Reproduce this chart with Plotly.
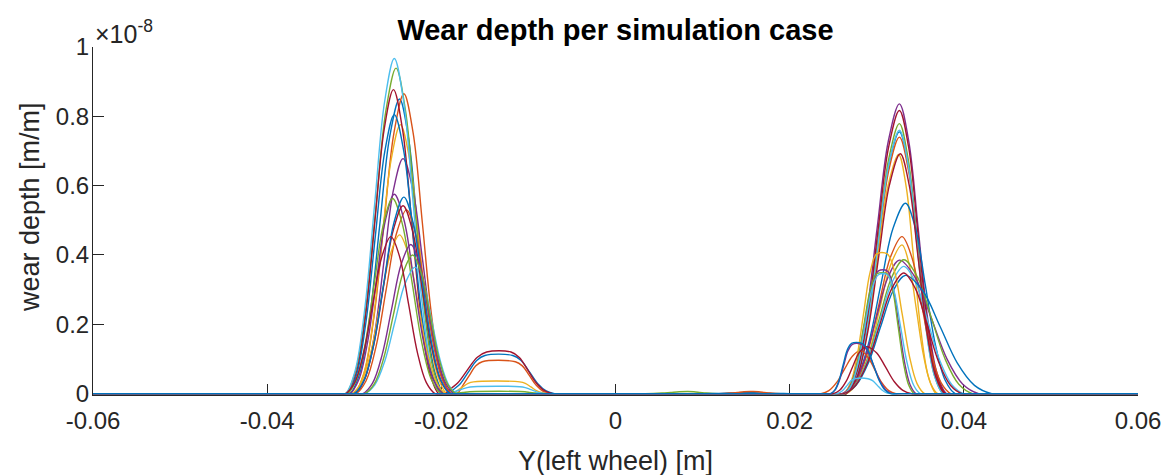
import plotly.graph_objects as go

# ---------------- data ----------------
# wear depth values are in units of 1e-8 m/m
x_ticks = [-0.06, -0.04, -0.02, 0.0, 0.02, 0.04, 0.06]
x_tick_labels = ["-0.06", "-0.04", "-0.02", "0", "0.02", "0.04", "0.06"]
y_ticks = [0.0, 0.2, 0.4, 0.6, 0.8, 1.0]
y_tick_labels = ["0", "0.2", "0.4", "0.6", "0.8", "1"]

n_cases = 25

# each bump of a case's wear profile: start of rise, start/end of top, end of fall, height
bump_case = [
    # left-flange group
    0, 1, 2, 3, 4, 5, 6, 7, 8, 9, 10, 11, 12, 13, 14, 17, 18, 20,
    # tread middle group
    6, 0, 1, 2, 5, 4,
    # small centre bumps
    4, 1, 0,
    # right group
    3, 6, 4, 5, 0, 1, 13, 2, 7, 8,
    9, 16, 11, 10, 17, 12, 20, 14, 18, 19,
    24, 21, 15, 23, 22,
]
bump_start = [
    -0.0305, -0.0300, -0.0300, -0.0298, -0.0310, -0.0310, -0.0308, -0.0308, -0.0298,
    -0.0303, -0.0305, -0.0308, -0.0288, -0.0300, -0.0300, -0.0290, -0.0288, -0.0310,
    -0.0203, -0.0197, -0.0190, -0.0194, -0.0200, -0.0198,
    0.0034, 0.0118, 0.0100,
    0.0262, 0.0264, 0.0265, 0.0265, 0.0264, 0.0265, 0.0265, 0.0265, 0.0262, 0.0263,
    0.0265, 0.0262, 0.0262, 0.0260, 0.0262, 0.0262, 0.0262, 0.0262, 0.0263, 0.0263,
    0.0247, 0.0247, 0.0236, 0.0250, 0.0253,
]
bump_top_left = [
    -0.0248, -0.0243, -0.0247, -0.0244, -0.0252, -0.0254, -0.0255, -0.0254, -0.0240,
    -0.0248, -0.0254, -0.0256, -0.0230, -0.0244, -0.0243, -0.0235, -0.0233, -0.0258,
    -0.0148, -0.0150, -0.0153, -0.0163, -0.0163, -0.0160,
    0.0083, 0.0155, 0.0150,
    0.0326, 0.0326, 0.0326, 0.0326, 0.0326, 0.0326, 0.0327, 0.0325, 0.0333, 0.0329,
    0.0329, 0.0300, 0.0331, 0.0326, 0.0302, 0.0331, 0.0331, 0.0333, 0.0300, 0.0302,
    0.0271, 0.0272, 0.0281, 0.0287, 0.0275,
]
bump_top_right = [
    -0.0248, -0.0243, -0.0247, -0.0244, -0.0252, -0.0254, -0.0255, -0.0254, -0.0240,
    -0.0248, -0.0254, -0.0256, -0.0230, -0.0244, -0.0243, -0.0235, -0.0233, -0.0258,
    -0.0120, -0.0118, -0.0115, -0.0110, -0.0110, -0.0110,
    0.0083, 0.0158, 0.0150,
    0.0326, 0.0326, 0.0326, 0.0326, 0.0326, 0.0326, 0.0327, 0.0325, 0.0333, 0.0329,
    0.0329, 0.0312, 0.0331, 0.0326, 0.0312, 0.0331, 0.0331, 0.0333, 0.0312, 0.0312,
    0.0283, 0.0282, 0.0281, 0.0290, 0.0290,
]
bump_end = [
    -0.0197, -0.0190, -0.0194, -0.0188, -0.0198, -0.0200, -0.0203, -0.0200, -0.0188,
    -0.0195, -0.0198, -0.0200, -0.0182, -0.0190, -0.0190, -0.0185, -0.0183, -0.0207,
    -0.0072, -0.0070, -0.0075, -0.0078, -0.0078, -0.0080,
    0.0118, 0.0190, 0.0200,
    0.0380, 0.0379, 0.0376, 0.0376, 0.0378, 0.0378, 0.0378, 0.0368, 0.0390, 0.0385,
    0.0370, 0.0355, 0.0410, 0.0417, 0.0345, 0.0400, 0.0398, 0.0432, 0.0343, 0.0350,
    0.0316, 0.0318, 0.0322, 0.0340, 0.0316,
]
bump_height = [
    0.850, 0.865, 0.776, 0.678, 0.939, 0.967, 0.877, 0.805, 0.530,
    0.458, 0.575, 0.563, 0.365, 0.542, 0.567, 0.430, 0.400, 0.453,
    0.120, 0.110, 0.092, 0.034, 0.020, 0.006,
    0.006, 0.006, 0.003,
    0.836, 0.817, 0.779, 0.760, 0.755, 0.740, 0.692, 0.690, 0.549, 0.453,
    0.429, 0.403, 0.386, 0.385, 0.354, 0.367, 0.348, 0.341, 0.345, 0.343,
    0.145, 0.142, 0.124, 0.135, 0.043,
]

# ---------------- style ----------------
palette = ["#0072BD", "#D95319", "#EDB120", "#7E2F8E", "#77AC30", "#4DBEEE", "#A2142F"]
case_color = [0, 1, 2, 3, 4, 5, 6, 0, 1, 2, 3, 4, 5, 6, 0, 1, 2, 3, 4, 5, 6, 3, 5, 6, 0]
rise_shape = [0.0, 0.07, 0.26, 0.57, 0.87, 1.0]   # spline knot levels along a flank
X_MIN, X_MAX = -0.06, 0.06
SCALE = 1e-8

fig = go.Figure()
nk = len(rise_shape) - 1
for c in range(n_cases):
    idx = sorted([i for i in range(len(bump_case)) if bump_case[i] == c],
                 key=lambda i: bump_start[i])
    xs, ys = [X_MIN], [0.0]
    for i in idx:
        s, a, b, e, h = (bump_start[i], bump_top_left[i], bump_top_right[i],
                         bump_end[i], bump_height[i])
        if s - xs[-1] > 0.0016:
            xs.append(s - 0.0008); ys.append(0.0)
        for k, f in enumerate(rise_shape):
            x = s + (a - s) * k / nk
            if x <= xs[-1] + 1e-9:
                continue
            xs.append(x); ys.append(h * f * SCALE)
        if b > a:
            xs.append(b); ys.append(h * SCALE)
        for k in range(nk - 1, -1, -1):
            x = e - (e - b) * k / nk
            xs.append(x); ys.append(h * rise_shape[k] * SCALE)
        xs.append(e + 0.0008); ys.append(0.0)
    xs.append(X_MAX); ys.append(0.0)
    fig.add_trace(go.Scatter(
        x=xs, y=ys, mode="lines",
        line=dict(color=palette[case_color[c]], width=1.4, shape="spline", smoothing=1.0),
        hoverinfo="skip", showlegend=False,
    ))

FONT = "Liberation Sans, Arial, Helvetica, sans-serif"
AX = "#262626"
L, R, T, B = 93, 33, 47, 80
PW, PH = 1173 - L - R, 475 - T - B
fig.update_layout(
    width=1173, height=475,
    margin=dict(l=L, r=R, t=T, b=B),
    paper_bgcolor="white", plot_bgcolor="white",
    showlegend=False,
    font=dict(family=FONT, color=AX, size=24),
    title=dict(text="<b>Wear depth per simulation case</b>", x=0.5, xref="paper",
               xanchor="center", y=1 - 30 / 475, yanchor="middle",
               font=dict(family=FONT, size=29, color="black")),
    xaxis=dict(range=[X_MIN, X_MAX], tickvals=x_ticks, ticktext=x_tick_labels,
               ticks="inside", ticklen=11, tickwidth=1, tickcolor=AX,
               showline=True, linecolor=AX, linewidth=1, mirror=False,
               showgrid=False, zeroline=False, layer="below traces",
               ticklabelstandoff=4,
               tickfont=dict(size=24, color=AX)),
    yaxis=dict(range=[-0.004e-8, 1e-8], tickvals=[v * SCALE for v in y_ticks],
               ticktext=y_tick_labels,
               ticks="inside", ticklen=11, tickwidth=1, tickcolor=AX,
               showline=True, linecolor=AX, linewidth=1, mirror=False,
               showgrid=False, zeroline=False, layer="below traces",
               ticklabelstandoff=-2,
               tickfont=dict(size=24, color=AX)),
    annotations=[
        dict(text="Y(left wheel) [m]", xref="paper", yref="paper", x=0.5,
             y=(475 - B - 461) / PH, xanchor="center", yanchor="middle",
             showarrow=False, font=dict(size=27, color=AX)),
        dict(text="wear depth [m/m]", xref="paper", yref="paper",
             x=(30 - L) / PW, y=(475 - B - 207) / PH, textangle=-90,
             xanchor="center", yanchor="middle", showarrow=False,
             font=dict(size=27, color=AX)),
        dict(text="×10<sup>-8</sup>", xref="paper", yref="paper", x=0.0,
             y=(475 - B - 32) / PH, xanchor="left", yanchor="middle",
             showarrow=False, font=dict(size=25, color=AX)),
    ],
)

fig.write_html("out.html")
